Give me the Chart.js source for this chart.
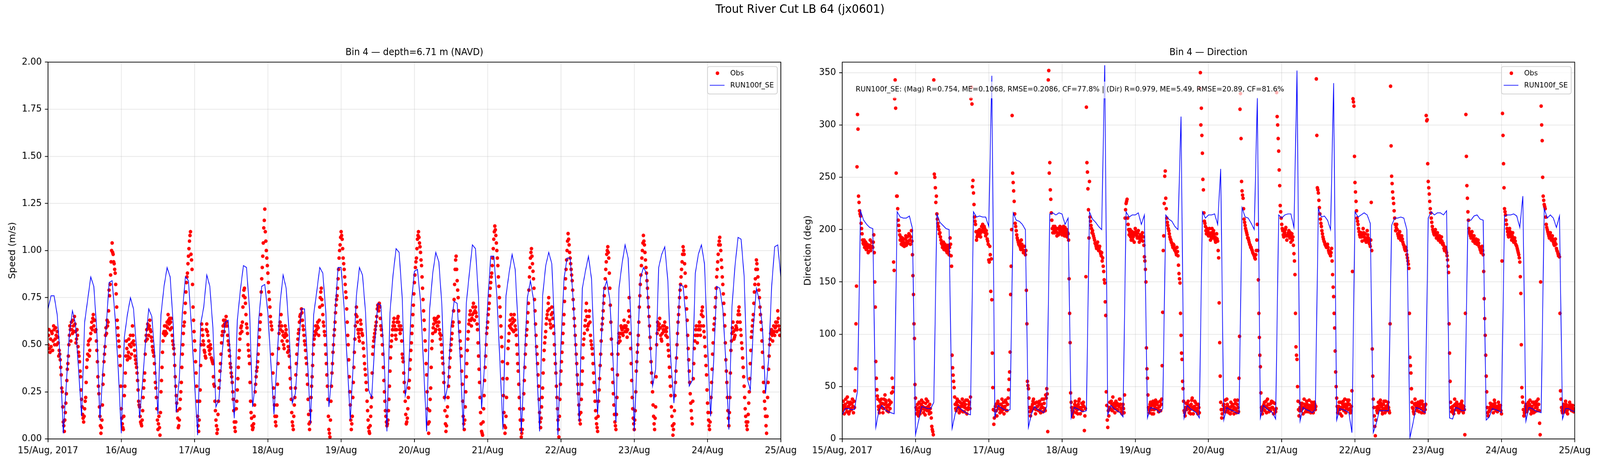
<!DOCTYPE html>
<html>
<head>
<meta charset="utf-8">
<title>Trout River Cut LB 64 (jx0601)</title>
<script src="https://cdn.jsdelivr.net/npm/chart.js@4.4.1/dist/chart.umd.min.js"></script>
<style>
  html, body { margin: 0; padding: 0; background: #fff; overflow: hidden; width: 100%; height: 100%; }
  /* figure is laid out at 5000x1400 and scaled to whatever window we get */
  #figure { position: absolute; left: 0; top: 0; width: 5000px; height: 1400px; transform-origin: 0 0;
            transform: scale(1, 0.857143); font-family: "DejaVu Sans", sans-serif; color: #000; }
  #suptitle { position: absolute; left: 0; top: 10px; width: 5000px; text-align: center; font-size: 35px; line-height: 35px; }
  .axTitle { position: absolute; top: 142px; text-align: center; font-size: 28px; line-height: 28px; white-space: nowrap; }
  canvas { position: absolute; top: 0; }
</style>
</head>
<body>
<div id="figure">
  <div id="suptitle">Trout River Cut LB 64 (jx0601)</div>
  <div class="axTitle" style="left:150px;width:2290px">Bin 4 — depth=6.71 m (NAVD)</div>
  <div class="axTitle" style="left:2632px;width:2289px">Bin 4 — Direction</div>
  <canvas id="speedChart" width="2500" height="1400" style="left:0"></canvas>
  <canvas id="dirChart" width="2500" height="1400" style="left:2500px"></canvas>
</div>
<script>
// x axis is hours since 15 Aug 2017 00:00
var dayTicks = [0, 24, 48, 72, 96, 120, 144, 168, 192, 216, 240];
var dayLabels = ['15/Aug, 2017', '16/Aug', '17/Aug', '18/Aug', '19/Aug', '20/Aug', '21/Aug', '22/Aug', '23/Aug', '24/Aug', '25/Aug'];
var speedTicks = [0, 0.25, 0.5, 0.75, 1.0, 1.25, 1.5, 1.75, 2.0];
var dirTicks = [0, 50, 100, 150, 200, 250, 300, 350];

// model RUN100f_SE, hourly (241 values)
var modelSpeed = [
  .69,.76,.76,.66,.43,.03,.29,.56,.68,.61, .37,.12,.62,.74,.86,.81,.57,.10,.37,.58,
  .83,.84,.64,.37,.03,.54,.66,.75,.69,.48, .11,.31,.53,.69,.65,.44,.13,.66,.81,.91,
  .86,.61,.14,.32,.67,.86,.84,.59,.30,.02, .61,.70,.87,.81,.59,.17,.21,.45,.62,.63,
  .37,.11,.63,.79,.92,.91,.69,.17,.31,.63, .81,.82,.67,.40,.13,.41,.72,.87,.80,.56,
  .19,.24,.48,.69,.69,.41,.08,.66,.78,.91, .88,.67,.17,.35,.67,.91,.91,.69,.41,.10,
  .41,.76,.91,.87,.67,.26,.22,.50,.72,.71, .46,.04,.67,.87,1.01,.99,.75,.23,.32,.72,
  .89,.90,.73,.39,.04,.69,.88,.99,.94,.71, .21,.29,.60,.73,.72,.43,.05,.72,.88,1.03,
  1.01,.75,.16,.40,.72,.97,.97,.76,.41,.05, .76,.88,.98,.90,.59,.03,.41,.75,.84,.74,
  .41,.04,.76,.92,.99,.93,.56,.02,.50,.85, .96,.96,.74,.41,.09,.80,.89,.97,.85,.42,
  .13,.45,.79,.84,.74,.43,.09,.80,.93,1.03, .96,.59,.04,.45,.85,.91,.88,.57,.28,.37,
  .91,.98,1.02,.84,.41,.19,.50,.82,.81,.63, .28,.31,.88,.98,1.03,.93,.50,.12,.41,.81,
  .80,.69,.41,.05,.70,.92,1.07,1.06,.86,.32, .26,.59,.80,.73,.59,.24,.42,.81,1.02,1.03,
  .86
];

var modelDir = [
  23,29,29,28,28,46,218,209,205,202, 201,11,27,32,28,26,25,24,217,212,
  211,211,213,201,4,17,31,30,29,29, 35,215,207,204,201,200,10,24,31,28,
  26,24,23,217,212,213,212,212,203,347, 21,32,30,28,27,28,216,209,208,205,
  200,11,24,31,28,27,25,31,215,216, 214,216,215,205,211,20,30,29,27,26,
  27,217,210,207,203,200,357,23,32,29, 27,25,21,217,212,214,214,216,205,214,
  20,30,29,28,25,29,214,210,208,203, 200,308,20,32,29,27,25,20,217,211,
  214,214,215,205,258,18,30,28,27,25, 24,221,212,211,206,200,326,20,32,29,
  27,25,19,214,211,214,215,215,202,352, 17,30,28,27,25,28,220,212,213,209,
  200,340,18,29,28,27,25,6,217,212, 214,216,214,206,6,15,27,27,27,27,
  204,211,211,212,211,200,1,15,30,29, 27,25,211,217,214,216,216,214,218,20,
  19,30,29,27,27,209,209,213,214,210, 209,18,21,29,28,27,25,213,214,214,
  215,213,202,232,17,30,29,27,26,25, 220,211,214,211,202,213,19,29,29,27,
  26
];

// ADCP observations, every 10 min (1440 values, one line = 4 hours)
var obsSpeed = [
  .50,.55,.58,.48,.46,.53, .49,.57,.56,.47,.52,.60, .58,.50,.53,.59,.55,.50, .57,.54,.51,.44,.47,.45,
  .42,.38,.34,.27,.25,.17, .09,.07,.04,.10,.14,.19, .24,.31,.37,.40,.44,.50, .55,.60,.58,.52,.62,.58,
  .56,.63,.60,.57,.65,.61, .57,.51,.53,.58,.55,.49, .46,.44,.41,.36,.33,.26, .21,.17,.13,.11,.09,.12,
  .16,.20,.22,.30,.38,.42, .45,.50,.52,.44,.47,.53, .56,.59,.62,.58,.64,.66, .60,.63,.63,.57,.58,.52,
  .47,.41,.33,.28,.24,.17, .12,.07,.03,.06,.10,.18, .29,.34,.41,.45,.49,.55, .59,.56,.63,.60,.62,.68,
  .79,.76,.82,.87,.94,1.00, 1.04,.99,.98,.94,.93,.90, .88,.82,.77,.70,.63,.59, .55,.52,.49,.44,.39,.28,
  .16,.11,.08,.06,.05,.12, .23,.28,.35,.44,.52,.48, .42,.44,.46,.53,.50,.43, .55,.49,.45,.51,.60,.55,
  .52,.50,.47,.44,.42,.40, .38,.35,.31,.26,.20,.18, .17,.12,.09,.08,.07,.10, .15,.22,.27,.31,.35,.45,
  .52,.55,.58,.53,.61,.59, .55,.60,.63,.58,.57,.54, .52,.49,.47,.46,.44,.40, .35,.30,.27,.22,.16,.10,
  .05,.08,.12,.06,.02,.14, .25,.31,.38,.46,.52,.56, .57,.60,.55,.57,.60,.56, .62,.59,.66,.63,.61,.64,
  .58,.62,.64,.59,.55,.52, .50,.48,.45,.39,.33,.28, .23,.19,.15,.11,.06,.07, .10,.16,.21,.25,.30,.38,
  .45,.50,.56,.60,.62,.67, .72,.78,.83,.86,.88,.93, .97,1.01,1.05,1.08,1.10,.98, .95,.90,.82,.70,.63,.57,
  .52,.47,.41,.35,.28,.20, .12,.07,.04,.10,.20,.26, .39,.50,.61,.58,.55,.52, .50,.47,.46,.44,.43,.58,
  .61,.57,.55,.49,.52,.47, .45,.50,.48,.43,.42,.41, .40,.33,.29,.28,.20,.15, .10,.07,.03,.05,.13,.20,
  .27,.31,.36,.40,.45,.51, .55,.57,.60,.63,.57,.61, .63,.60,.65,.62,.60,.55, .52,.50,.47,.44,.40,.38,
  .35,.33,.30,.25,.21,.15, .09,.06,.04,.09,.16,.20, .26,.32,.38,.43,.47,.53, .56,.59,.60,.57,.62,.70,
  .76,.79,.80,.75,.72,.66, .61,.59,.56,.50,.47,.44, .40,.30,.20,.14,.11,.07, .05,.06,.08,.12,.18,.25,
  .29,.33,.36,.38,.41,.45, .50,.54,.58,.62,.66,.78, .85,.91,.97,1.04,1.12,1.16, 1.22,1.10,1.05,1.00,.96,.92,
  .88,.83,.78,.74,.70,.65, .62,.60,.58,.45,.35,.27, .22,.18,.12,.09,.07,.12, .18,.29,.40,.48,.56,.60,
  .62,.58,.66,.60,.52,.57, .55,.50,.48,.54,.60,.56, .58,.55,.52,.46,.49,.47, .44,.38,.32,.27,.21,.14,
  .09,.07,.05,.12,.18,.22, .27,.34,.40,.45,.50,.53, .56,.58,.62,.65,.66,.63, .69,.67,.63,.60,.58,.55,
  .52,.50,.47,.43,.40,.34, .29,.21,.13,.08,.05,.09, .15,.22,.28,.33,.39,.45, .50,.53,.55,.57,.60,.56,
  .58,.60,.62,.59,.55,.63, .70,.75,.78,.80,.74,.71, .66,.62,.60,.57,.55,.50, .45,.40,.34,.28,.21,.12,
  .05,.03,.01,.10,.20,.28, .35,.40,.46,.50,.55,.58, .62,.67,.71,.74,.76,.80, .85,.90,.96,1.00,1.03,1.07,
  1.10,1.08,1.06,1.01,.96,.93, .90,.86,.82,.78,.75,.69, .62,.55,.50,.42,.33,.25, .18,.10,.05,.08,.12,.22,
  .30,.38,.46,.53,.60,.66, .70,.65,.62,.58,.56,.54, .52,.58,.63,.61,.58,.56, .55,.51,.48,.44,.40,.37,
  .34,.30,.26,.20,.15,.10, .06,.04,.03,.07,.12,.17, .22,.35,.45,.49,.52,.54, .56,.58,.60,.62,.65,.69,
  .71,.70,.68,.72,.70,.64, .60,.58,.55,.50,.45,.38, .31,.25,.20,.15,.12,.09, .07,.08,.10,.15,.21,.28,
  .36,.43,.49,.52,.55,.58, .60,.62,.64,.60,.58,.55, .53,.58,.62,.64,.65,.62, .60,.58,.56,.60,.58,.52,
  .45,.43,.41,.35,.30,.25, .20,.13,.08,.09,.11,.16, .22,.27,.31,.37,.42,.47, .51,.56,.60,.66,.71,.77,
  .83,.87,.91,.94,.96,1.01, 1.06,1.08,1.10,1.07,1.04,1.02, .99,.95,.92,.86,.80,.74, .68,.63,.58,.52,.47,.40,
  .34,.25,.16,.08,.03,.09, .15,.21,.27,.38,.48,.52, .56,.59,.61,.64,.63,.57, .58,.62,.64,.60,.60,.65,
  .62,.58,.56,.53,.55,.50, .46,.43,.40,.35,.30,.22, .15,.08,.04,.07,.12,.17, .22,.28,.33,.38,.43,.47,
  .50,.53,.56,.60,.62,.68, .74,.82,.90,.95,.97,.90, .84,.79,.75,.68,.62,.57, .52,.48,.44,.36,.29,.20,
  .12,.08,.05,.10,.17,.25, .33,.40,.47,.53,.57,.61, .63,.66,.68,.63,.60,.64, .66,.70,.72,.67,.63,.68,
  .70,.67,.65,.61,.58,.51, .44,.37,.30,.22,.14,.08, .04,.03,.02,.09,.16,.23, .31,.38,.44,.50,.56,.59,
  .62,.66,.69,.72,.76,.80, .83,.86,.88,.92,.96,1.01, 1.06,1.10,1.13,1.11,1.08,1.04, 1.00,.96,.92,.86,.81,.75,
  .70,.65,.60,.54,.49,.41, .32,.23,.14,.07,.03,.06, .12,.22,.32,.40,.48,.52, .56,.60,.63,.59,.66,.61,
  .58,.64,.62,.57,.66,.63, .60,.58,.55,.50,.45,.40, .36,.29,.22,.16,.10,.05, .01,.03,.05,.10,.16,.24,
  .31,.38,.45,.50,.55,.58, .62,.67,.72,.79,.86,.91, .96,.99,1.01,.97,.93,.89, .85,.80,.74,.68,.61,.55,
  .49,.45,.40,.34,.28,.21, .14,.09,.06,.11,.17,.22, .27,.35,.42,.47,.51,.54, .57,.61,.64,.66,.68,.72,
  .75,.69,.63,.61,.59,.66, .70,.67,.64,.60,.56,.50, .45,.40,.35,.28,.22,.16, .10,.05,.01,.12,.21,.29,
  .36,.41,.46,.51,.56,.61, .66,.73,.80,.85,.90,.95, 1.00,1.05,1.09,1.06,1.03,.99, .96,.93,.90,.87,.84,.79,
  .74,.69,.64,.60,.55,.50, .45,.40,.34,.29,.24,.18, .13,.10,.08,.14,.21,.29, .36,.43,.50,.53,.56,.60,
  .63,.68,.72,.65,.58,.60, .61,.65,.68,.62,.55,.52, .50,.48,.45,.40,.35,.30, .25,.20,.15,.11,.08,.06,
  .04,.12,.20,.26,.32,.39, .45,.52,.58,.61,.64,.68, .72,.76,.80,.85,.90,.94, .98,1.00,1.02,.99,.96,.88,
  .80,.71,.62,.53,.45,.37, .30,.24,.18,.13,.09,.07, .05,.13,.22,.34,.45,.51, .56,.54,.52,.56,.60,.59,
  .58,.56,.55,.59,.63,.60, .57,.59,.60,.57,.54,.58, .62,.68,.75,.65,.56,.48, .40,.31,.22,.16,.11,.08,
  .05,.10,.15,.25,.36,.41, .46,.50,.55,.62,.70,.76, .82,.87,.92,.96,1.00,1.04, 1.08,1.05,1.03,.99,.95,.91,
  .88,.84,.80,.75,.70,.65, .60,.54,.48,.41,.35,.30, .25,.18,.12,.08,.05,.11, .17,.33,.50,.56,.62,.60,
  .58,.61,.64,.59,.55,.53, .52,.56,.60,.58,.57,.60, .62,.58,.55,.57,.59,.54, .50,.47,.44,.38,.33,.28,
  .23,.17,.12,.07,.02,.05, .08,.15,.23,.30,.36,.43, .50,.56,.62,.66,.70,.75, .79,.82,.86,.90,.94,.98,
  1.02,1.00,.98,.93,.88,.81, .75,.69,.63,.55,.48,.42, .36,.30,.24,.19,.15,.11, .08,.20,.32,.40,.48,.52,
  .55,.58,.60,.55,.51,.55, .58,.60,.62,.58,.55,.60, .66,.68,.70,.65,.60,.57, .54,.49,.44,.39,.34,.26,
  .19,.14,.10,.07,.05,.09, .14,.22,.30,.37,.45,.51, .58,.61,.64,.70,.75,.80, .86,.90,.94,.98,1.03,1.05,
  1.07,1.03,1.00,.95,.91,.86, .82,.77,.72,.66,.60,.51, .42,.36,.30,.22,.15,.11, .07,.14,.22,.35,.47,.52,
  .56,.59,.62,.57,.53,.54, .55,.58,.60,.59,.58,.62, .66,.68,.70,.66,.62,.58, .55,.51,.48,.43,.38,.33,
  .28,.22,.16,.12,.09,.07, .05,.09,.13,.19,.25,.32, .40,.47,.54,.57,.60,.63, .66,.72,.78,.82,.85,.90,
  .95,.93,.90,.86,.82,.79, .75,.70,.66,.62,.58,.52, .46,.38,.30,.25,.20,.16, .12,.07,.03,.12,.22,.30,
  .37,.44,.50,.53,.56,.57, .58,.55,.52,.56,.60,.57, .55,.59,.62,.60,.57,.62, .68,.64,.60,.58,.55,.58
];

var obsDir = [
  27,32,36,29,24,31, 33,38,29,26,40,35, 31,24,26,33,35,29, 28,34,38,31,25,36,
  30,46,67,110,146,260, 310,296,232,226,218,215, 213,206,201,196,190,187, 186,190,183,185,188,181,
  181,186,184,178,179,183, 185,190,180,183,188,184, 183,188,195,178,150,126, 74,58,47,41,38,31,
  28,25,36,31,33,38, 30,34,25,29,38,33, 42,37,35,30,27,32, 31,26,37,33,29,35,
  35,44,58,45,49,169, 161,325,343,316,254,232, 232,220,209,204,199,195, 190,193,186,189,192,185,
  188,191,184,187,191,194, 185,189,193,187,189,196, 195,190,186,193,199,189, 176,156,138,110,96,52,
  39,30,24,28,33,26, 22,35,30,24,27,33, 37,29,31,35,25,30, 28,23,34,38,30,27,
  36,31,27,24,33,29, 25,20,12,9,7,4, 343,253,250,240,226,232, 215,210,206,203,200,196,
  197,193,190,187,186,183, 184,188,181,183,186,182, 180,184,178,181,185,179, 176,183,192,186,175,165,
  80,68,61,55,49,40, 33,29,27,35,38,32, 30,36,25,28,35,31, 27,33,38,26,31,35,
  26,30,33,37,29,24, 37,28,30,33,35,29, 40,325,336,320,241,247, 235,224,212,208,205,198,
  190,193,195,197,199,194, 200,196,193,199,203,198, 205,201,198,203,201,197, 194,199,196,191,189,186,
  171,169,184,176,141,172, 133,82,49,28,14,20, 27,31,33,27,22,34, 36,30,29,33,25,28,
  33,26,38,31,28,35, 24,29,31,37,35,27, 27,33,39,47,57,64, 83,138,165,200,309,254,
  245,237,227,215,206,203, 199,195,192,190,188,186, 185,188,183,181,190,186, 181,184,178,180,184,179,
  176,180,142,110,55,51, 48,39,30,26,22,29, 27,31,33,36,38,29, 29,34,24,28,35,31,
  31,35,27,33,36,28, 25,30,33,38,30,26, 38,34,29,27,42,39, 48,43,7,343,352,254,
  264,238,229,216,209,201, 197,203,200,197,203,199, 198,201,194,197,201,195, 196,200,203,198,199,202,
  195,198,200,203,197,194, 202,199,196,200,193,197, 196,190,153,120,92,44, 35,30,27,24,21,26,
  30,33,36,29,25,31, 28,24,33,36,38,30, 24,29,30,34,27,33, 35,31,8,22,29,155,
  317,264,255,239,219,192, 246,212,208,204,201,197, 199,196,194,192,190,187, 186,184,182,185,188,183,
  180,182,184,179,177,175, 178,170,173,165,160,152, 149,131,118,45,32,18, 11,27,22,30,35,29,
  28,36,33,27,40,31, 30,34,25,29,36,32, 34,28,27,33,31,38, 38,33,29,26,24,30,
  33,29,25,42,211,219, 225,227,229,211,205,200, 195,198,200,193,190,196, 198,190,193,195,188,197,
  201,198,196,194,192,197, 199,193,188,191,195,192, 190,194,197,189,193,185, 174,170,162,150,87,67,
  58,42,30,28,25,33, 35,31,28,24,33,36, 24,28,31,34,37,29, 29,33,35,28,26,31,
  31,36,27,33,38,70, 121,180,194,225,251,256, 230,220,211,207,204,201, 199,196,193,191,190,188,
  187,185,183,186,185,181, 180,182,178,176,183,179, 175,166,158,153,149,120, 99,82,76,55,48,36,
  27,25,22,30,34,28, 30,33,36,29,25,31, 28,24,33,37,39,30, 24,28,31,36,35,27,
  29,33,27,24,33,30, 25,335,350,300,316,290, 273,248,238,216,208,206, 203,199,196,201,199,195,
  194,197,201,196,190,193, 197,201,192,195,199,196, 193,190,188,192,196,191, 189,180,173,130,92,60,
  35,28,20,24,28,32, 33,29,26,37,30,26, 38,33,31,28,25,30, 29,24,35,31,27,33,
  32,28,24,30,37,34, 28,25,33,37,30,26, 58,98,315,330,287,246, 237,233,230,220,210,207,
  204,201,199,197,195,192, 192,190,188,186,185,183, 183,181,180,178,177,176, 175,173,172,176,180,190,
  205,180,152,120,97,80, 69,44,30,27,24,31, 28,33,35,27,31,36, 25,30,38,33,29,26,
  33,29,27,34,36,30, 30,35,24,28,34,27, 26,29,331,308,300,287, 275,257,242,223,217,211,
  205,201,199,195,193,196, 197,200,202,194,190,194, 195,197,199,195,192,197, 188,193,196,190,193,185,
  177,170,157,120,88,80, 76,50,36,28,22,27, 30,34,27,31,34,29, 24,30,38,33,31,26,
  29,36,33,28,26,31, 37,32,28,25,30,35, 32,28,25,30,35,33, 28,31,344,290,240,238,
  235,228,221,215,210,206, 203,199,196,193,191,189, 188,186,185,184,183,185, 186,183,180,178,177,179,
  175,178,182,170,157,145, 136,120,106,84,64,50, 39,31,25,28,31,35, 28,24,35,30,22,29,
  33,36,27,31,38,33, 25,29,31,37,34,28, 37,33,29,25,27,31, 46,160,325,322,318,270,
  245,236,227,218,211,208, 205,201,198,195,193,196, 197,193,189,196,201,197, 193,190,196,192,188,191,
  199,195,192,189,187,186, 184,190,226,180,86,60, 38,30,22,12,3,18, 30,27,25,31,35,29,
  28,33,37,34,31,27, 24,29,33,36,29,25, 36,31,27,30,32,35, 30,27,25,110,337,280,
  251,244,236,230,225,218, 211,205,199,202,205,200, 196,194,192,195,198,193, 190,192,194,191,188,186,
  185,183,181,180,183,180, 176,173,170,167,163,120, 78,70,63,48,35,30, 29,26,24,33,38,34,
  31,28,27,33,35,30, 26,30,33,36,29,25, 36,33,30,27,25,31, 28,33,309,304,305,263,
  246,240,234,227,220,216, 211,207,203,200,198,196, 195,198,200,196,192,195, 197,193,190,192,194,191,
  188,190,193,189,186,187, 185,182,180,181,183,180, 178,175,171,165,159,110, 82,55,35,30,26,29,
  31,27,24,32,38,33, 28,31,35,33,30,27, 25,29,33,30,27,34, 36,32,29,25,31,28,
  4,120,310,270,242,230, 217,209,201,198,196,194, 192,195,198,193,189,191, 194,190,187,189,191,188,
  186,188,190,187,184,183, 181,180,178,181,184,180, 176,160,134,115,99,80, 60,45,30,25,22,26,
  27,30,34,31,29,33, 33,29,25,31,37,34, 29,27,31,28,26,30, 35,32,28,30,32,27,
  24,170,311,290,263,240, 220,217,214,209,205,201, 198,195,193,197,201,198, 195,193,190,194,197,192,
  188,190,192,189,186,185, 184,182,180,178,176,173, 169,155,139,90,49,40, 35,28,22,25,28,31,
  33,29,26,28,31,35, 29,33,37,30,24,27, 31,35,28,25,35,33, 26,30,33,36,30,27,
  38,33,27,15,4,150, 318,300,285,250,232,228, 224,222,220,212,205,202, 200,198,196,194,192,195,
  197,193,190,192,194,191, 188,186,185,188,191,186, 182,180,179,177,175,176, 174,120,46,38,30,27,
  25,29,33,31,28,26, 36,33,30,27,24,29, 29,32,35,33,31,28, 27,30,32,29,26,28
];

var statsText = 'RUN100f_SE: (Mag) R=0.754, ME=0.1068, RMSE=0.2086, CF=77.8% | (Dir) R=0.979, ME=5.49, RMSE=20.89, CF=81.6%';

Chart.defaults.font.family = '"DejaVu Sans", sans-serif';
Chart.defaults.color = '#000';

var gridColor = 'rgba(176, 176, 176, 0.3)';
var fontSize = 28;

//Squeeze the 5000x1400 figure into the window we actually got
function fitFigure() {
    var fig = document.getElementById('figure');
    var w = window.innerWidth || 5000;
    var h = window.innerHeight || 1200;
    fig.style.transform = 'scale(' + (w / 5000) + ',' + (h / 1400) + ')';
}
fitFigure();
window.addEventListener('resize', fitFigure);

function toPoints(values, step) {
    return values.map(function(v, i) {
        return {x: i * step, y: v};
    });
}

//Box around the axes, drawn over the data like matplotlib spines
var axesFrame = {
    id: 'axesFrame',
    afterDatasetsDraw: function(chart) {
        var a = chart.chartArea;
        var ctx = chart.ctx;
        ctx.save();
        ctx.lineWidth = 2.2;
        ctx.strokeStyle = '#000';
        ctx.strokeRect(a.left, a.top, a.right - a.left, a.bottom - a.top);
        ctx.restore();
    }
};

//Stats line with a half transparent white box behind it
var statsNote = {
    id: 'statsNote',
    afterDraw: function(chart, args, opts) {
        if (!opts.text) {
            return;
        }
        var a = chart.chartArea;
        var ctx = chart.ctx;
        ctx.save();
        ctx.font = '22px "DejaVu Sans"';
        var w = ctx.measureText(opts.text).width;
        var x = a.left + 42;
        ctx.fillStyle = 'rgba(255, 255, 255, 0.7)';
        ctx.fillRect(x - 9, a.top + 58, w + 18, 50);
        ctx.fillStyle = '#000';
        ctx.textBaseline = 'middle';
        ctx.fillText(opts.text, x, a.top + 82);
        ctx.restore();
    }
};

//Legend box in the upper right corner of the axes
var boxLegend = {
    id: 'boxLegend',
    afterDraw: function(chart) {
        var a = chart.chartArea;
        var ctx = chart.ctx;
        var model = chart.data.datasets[0];
        var obs = chart.data.datasets[1];
        var w = 218, h = 82;
        var x0 = a.right - 11 - w;
        var y0 = a.top + 13;

        ctx.save();
        ctx.beginPath();
        ctx.roundRect(x0, y0, w, h, 6);
        ctx.fillStyle = 'rgba(255, 255, 255, 0.8)';
        ctx.fill();
        ctx.lineWidth = 2.2;
        ctx.strokeStyle = '#cccccc';
        ctx.stroke();

        ctx.beginPath();
        ctx.arc(x0 + 31, y0 + 20, 5.5, 0, 2 * Math.PI);
        ctx.fillStyle = obs.backgroundColor;
        ctx.fill();

        ctx.beginPath();
        ctx.moveTo(x0 + 7, y0 + 56);
        ctx.lineTo(x0 + 53, y0 + 56);
        ctx.strokeStyle = model.borderColor;
        ctx.lineWidth = 2.2;
        ctx.stroke();

        ctx.font = '22px "DejaVu Sans"';
        ctx.textBaseline = 'middle';
        ctx.fillStyle = '#000';
        ctx.fillText(obs.label, x0 + 71, y0 + 21);
        ctx.fillText(model.label, x0 + 71, y0 + 57);
        ctx.restore();
    }
};

function makePanel(canvasId, p) {
    var ctx = document.getElementById(canvasId).getContext('2d');
    return new Chart(ctx, {
        type: 'scatter',
        data: {
            datasets: [
                {
                    label: 'RUN100f_SE',
                    data: toPoints(p.model, 1),
                    showLine: true,
                    borderColor: '#0000ff',
                    borderWidth: 2.2,
                    pointRadius: 0,
                    tension: 0,
                    order: 1
                },
                {
                    label: 'Obs',
                    data: toPoints(p.obs, 1 / 6),
                    backgroundColor: '#ff0000',
                    borderColor: '#ff0000',
                    pointRadius: 5.5,
                    pointBorderWidth: 0,
                    order: 2
                }
            ]
        },
        options: {
            responsive: false,
            animation: false,
            devicePixelRatio: 1,
            events: [],
            layout: {padding: {left: 0, right: p.padRight, top: 185.5, bottom: 0}},
            plugins: {
                legend: {display: false},
                tooltip: {enabled: false},
                statsNote: {text: p.note}
            },
            scales: {
                x: {
                    type: 'linear',
                    min: 0,
                    max: 240,
                    afterBuildTicks: function(axis) {
                        axis.ticks = dayTicks.map(function(v) { return {value: v}; });
                    },
                    afterFit: function(axis) { axis.height = 89.8; },
                    ticks: {
                        autoSkip: false,
                        maxRotation: 0,
                        padding: 9,
                        font: {size: fontSize},
                        callback: function(v, i) { return dayLabels[i]; }
                    },
                    grid: {color: gridColor, lineWidth: 2.2, tickColor: '#000', tickWidth: 2.2, tickLength: 9.7},
                    border: {display: false}
                },
                y: {
                    type: 'linear',
                    min: 0,
                    max: p.yMax,
                    afterBuildTicks: function(axis) {
                        axis.ticks = p.yTicks.map(function(v) { return {value: v}; });
                    },
                    afterFit: function(axis) { axis.width = p.yWidth; },
                    ticks: {
                        padding: 9.7,
                        font: {size: fontSize},
                        callback: p.yFormat
                    },
                    grid: {color: gridColor, lineWidth: 2.2, tickColor: '#000', tickWidth: 2.2, tickLength: 9.7},
                    border: {display: false},
                    title: {
                        display: true,
                        text: p.yTitle,
                        font: {size: fontSize},
                        padding: {top: p.titlePad, bottom: 0}
                    }
                }
            }
        },
        plugins: [axesFrame, statsNote, boxLegend]
    });
}

makePanel('speedChart', {
    model: modelSpeed,
    obs: obsSpeed,
    yMax: 2,
    yTicks: speedTicks,
    yWidth: 150,
    yTitle: 'Speed (m/s)',
    titlePad: 23,
    padRight: 60,
    note: '',
    yFormat: function(v) { return v.toFixed(2); }
});

makePanel('dirChart', {
    model: modelDir,
    obs: obsDir,
    yMax: 360,
    yTicks: dirTicks,
    yWidth: 132,
    yTitle: 'Direction (deg)',
    titlePad: 9,
    padRight: 79,
    note: statsText,
    yFormat: function(v) { return String(v); }
});
</script>
</body>
</html>
